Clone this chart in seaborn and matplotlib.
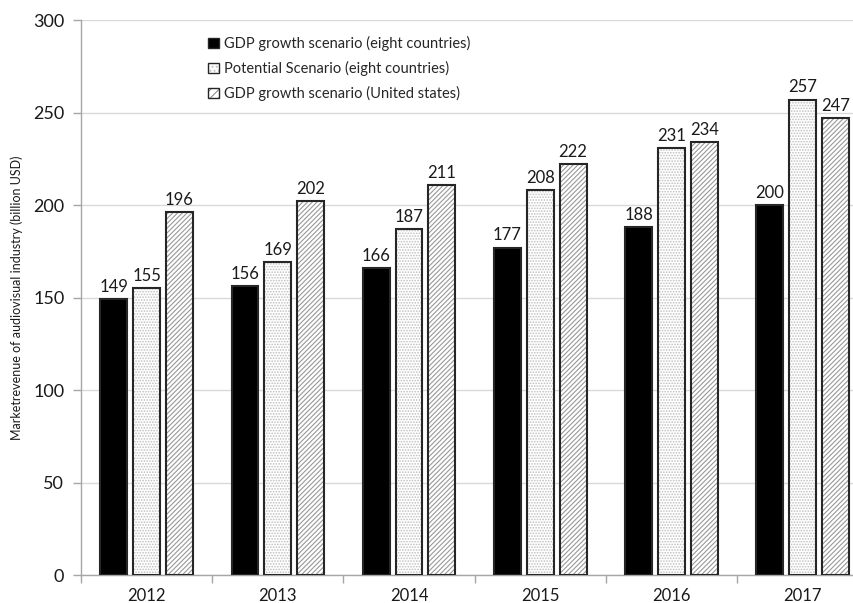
import numpy as np
import pandas as pd
import matplotlib
matplotlib.use("Agg")
import matplotlib.pyplot as plt
from matplotlib.patches import Rectangle, Patch
from matplotlib.legend_handler import HandlerTuple
from matplotlib.ticker import FixedLocator
import seaborn as sns

# Market revenue of the audiovisual industry (billion USD)
years = ["2012", "2013", "2014", "2015", "2016", "2017"]
gdp_eight = [149, 156, 166, 177, 188, 200]
potential_eight = [155, 169, 187, 208, 231, 257]
gdp_us = [196, 202, 211, 222, 234, 247]
series = [
    "GDP growth scenario (eight countries)",
    "Potential Scenario (eight countries)",
    "GDP growth scenario (United states)",
]
y_ticks = [0, 50, 100, 150, 200, 250, 300]
y_label = "Marketrevenue of audiovisual industry (billion USD)"

df = pd.DataFrame({
    "year": years * 3,
    "value": gdp_eight + potential_eight + gdp_us,
    "series": np.repeat(series, len(years)),
})

sns.set_theme(style="white")
plt.rcParams["font.family"] = ["Lato", "DejaVu Sans"]
plt.rcParams["hatch.linewidth"] = 0.8

EDGE = "#262626"
AXIS = "#a6a6a6"
GRID = "#d9d9d9"

fig = plt.figure(figsize=(8.54, 6.03), dpi=100)
ax = fig.add_axes([0.0948, 0.0464, 0.922, 0.9204])

sns.barplot(
    data=df, x="year", y="value", hue="series",
    order=years, hue_order=series,
    palette=["black", "white", "white"],
    width=0.75, gap=0.18, edgecolor=EDGE, linewidth=1.5,
    errorbar=None, legend=False, ax=ax, zorder=3,
)

# Patterned fills: light hatch inside, dark outline drawn on top
patterns = [None, "......", "///////"]
hatch_col = [None, "#bfbfbf", "#999999"]
for cont, pat, hc in zip(ax.containers, patterns, hatch_col):
    if pat is None:
        continue
    for bar in cont:
        bar.set_hatch(pat)
        bar.set_edgecolor(hc)
        bar.set_linewidth(0)
        ax.add_patch(Rectangle(bar.get_xy(), bar.get_width(), bar.get_height(),
                               fill=False, edgecolor=EDGE, linewidth=1.5, zorder=4))

for cont, vals in zip(ax.containers, [gdp_eight, potential_eight, gdp_us]):
    ax.bar_label(cont, labels=[str(v) for v in vals], padding=3,
                 fontsize=12, color="#1a1a1a")

ax.set_ylim(0, 300)
ax.set_xlim(-0.5, len(years) - 0.5)
ax.set_yticks(y_ticks)
ax.yaxis.grid(True, color=GRID, linewidth=1)
ax.set_axisbelow(True)

ax.xaxis.set_minor_locator(FixedLocator(np.arange(-0.5, len(years), 1.0)))
ax.tick_params(axis="x", which="major", length=0, pad=9, labelsize=12, labelcolor="#1a1a1a")
ax.tick_params(axis="x", which="minor", length=6, width=1, color=AXIS, direction="out", bottom=True)
ax.tick_params(axis="y", length=6, width=1, color=AXIS, direction="out", left=True,
               pad=6, labelsize=13, labelcolor="#1a1a1a")

for side in ["top", "right"]:
    ax.spines[side].set_visible(False)
for side in ["left", "bottom"]:
    ax.spines[side].set_color(AXIS)
    ax.spines[side].set_linewidth(1)

ax.set_xlabel("")
ax.set_ylabel(y_label, fontsize=9, color="#1a1a1a")
ax.yaxis.set_label_coords(-0.074, 0.5)

handles = [
    Patch(facecolor="black", edgecolor=EDGE, linewidth=1),
    (Patch(facecolor="white", edgecolor="#bfbfbf", hatch="....", linewidth=0),
     Patch(facecolor="none", edgecolor=EDGE, linewidth=1)),
    (Patch(facecolor="white", edgecolor="#8c8c8c", hatch="////", linewidth=0),
     Patch(facecolor="none", edgecolor=EDGE, linewidth=1)),
]
fig.legend(handles, series, loc="upper left", bbox_to_anchor=(0.244, 0.94),
           frameon=False, fontsize=10.5, handlelength=0.75, handleheight=0.75,
           handletextpad=0.35, labelspacing=0.68, borderpad=0, borderaxespad=0,
           handler_map={tuple: HandlerTuple(ndivide=1, pad=0)})

fig.savefig("out.png", dpi=100)
